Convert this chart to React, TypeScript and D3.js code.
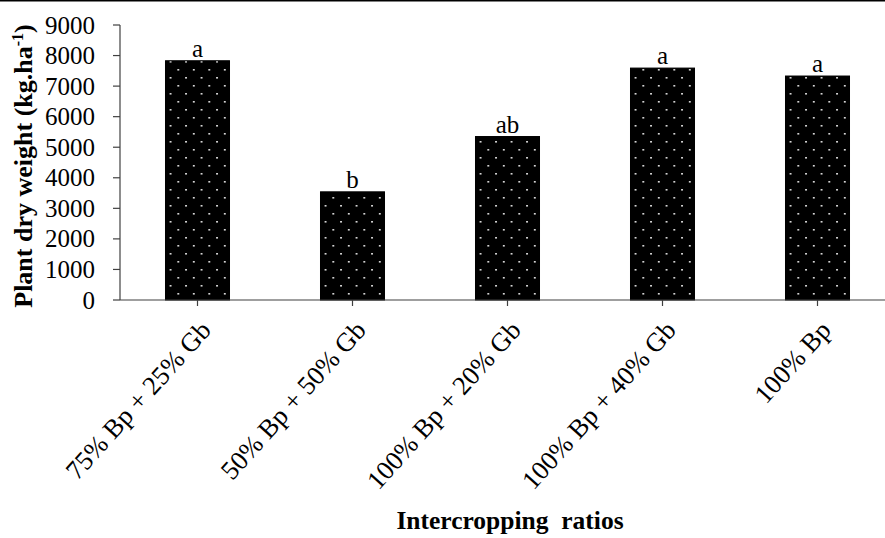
import React from "react";
import * as d3 from "d3";

const categories = ["75% Bp + 25% Gb", "50% Bp + 50% Gb", "100% Bp + 20% Gb", "100% Bp + 40% Gb", "100% Bp"];
const values = [7830, 3540, 5350, 7590, 7330];
const letters = ["a", "b", "ab", "a", "a"];
const yTicks = [0, 1000, 2000, 3000, 4000, 5000, 6000, 7000, 8000, 9000];

const W = 885, H = 538;
const left = 120, right = 895, top = 25, bottom = 300;
const FONT = "Liberation Serif";
const FS = 25;

export default function App() {
  const x = d3.scaleBand<string>().domain(categories).range([left, right]).paddingInner(0.587).paddingOuter(0.2935);
  const y = d3.scaleLinear().domain([0, 9000]).range([bottom, top]);
  const bw = x.bandwidth();
  const ts = { fontFamily: FONT };
  return (
    <svg width={W} height={H} style={{ position: "absolute", left: 0, top: 0, background: "#fff", fontFamily: FONT }}>
      <defs>
        <pattern id="dots" patternUnits="userSpaceOnUse" width="15.5" height="16" x="2" y="3">
          <rect width="15.5" height="16" fill="#000" />
          <rect x="5" y="2" width="1.6" height="1.6" fill="#fff" />
          <rect x="12.75" y="10" width="1.6" height="1.6" fill="#fff" />
        </pattern>
      </defs>
      <line x1={0} x2={W} y1={0.75} y2={0.75} stroke="#000" strokeWidth={1.5} />
      {categories.map((c, i) => (
        <g key={c}>
          <rect x={x(c)} y={y(values[i])} width={bw} height={bottom - y(values[i])} fill="url(#dots)" stroke="#000" strokeWidth={1} />
          <text style={ts} x={x(c)! + bw / 2} y={y(values[i]) - 4} textAnchor="middle" fontSize={FS} fill="#000">{letters[i]}</text>
        </g>
      ))}
      <line x1={left} x2={left} y1={top} y2={bottom} stroke="#404040" strokeWidth={1.2} />
      {yTicks.map((t) => (
        <g key={t}>
          <line x1={left - 7} x2={left} y1={y(t)} y2={y(t)} stroke="#404040" strokeWidth={1.2} />
          <text style={ts} x={95} y={y(t)} dy="0.34em" textAnchor="end" fontSize={FS} fill="#000">{t}</text>
        </g>
      ))}
      <line x1={left} x2={W} y1={bottom} y2={bottom} stroke="#404040" strokeWidth={1.2} />
      {categories.map((c) => {
        const cx = x(c)! + bw / 2;
        return (
          <g key={"t" + c}>
            <line x1={cx} x2={cx} y1={bottom} y2={bottom + 6} stroke="#404040" strokeWidth={1.2} />
            <text style={ts} transform={`translate(${cx + 8},${bottom + 25}) rotate(-48)`} textAnchor="end" dy="0.35em" fontSize={26.5} fill="#000">{c}</text>
          </g>
        );
      })}
      <text style={{ ...ts, whiteSpace: "pre" }} x={510} y={529} textAnchor="middle" fontSize={25.5} fontWeight="bold" fill="#000">{"Intercropping  ratios"}</text>
      <text style={ts} transform={`translate(32,166) rotate(-90)`} textAnchor="middle" fontSize={26} fontWeight="bold" fill="#000">
        Plant dry weight (kg.ha<tspan dy="-9" fontSize={16}>-1</tspan><tspan dy="9">)</tspan>
      </text>
    </svg>
  );
}
